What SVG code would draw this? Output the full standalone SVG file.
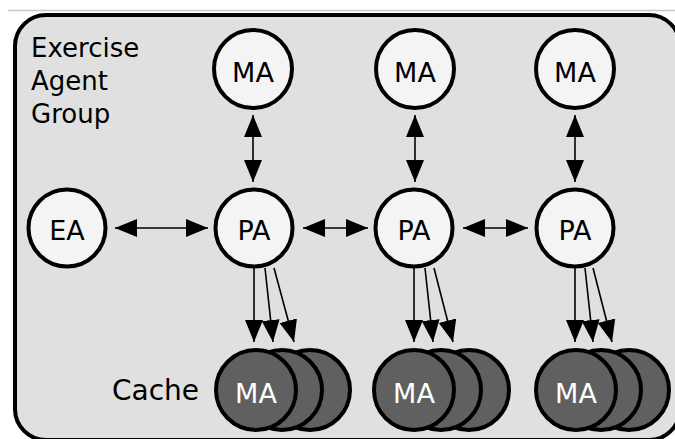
<svg xmlns="http://www.w3.org/2000/svg" width="675" height="439" viewBox="0 0 675 439">
  <style>
    .frame { fill: #e0e0e0; stroke: #000; stroke-width: 4; }
    .agent { fill: #f4f4f4; stroke: #000; stroke-width: 4; }
    .cached { fill: #606060; stroke: #000; stroke-width: 4; }
    .label { font-family: "DejaVu Sans", "Liberation Sans", sans-serif; font-size: 27px; fill: #000; text-anchor: middle; }
    .label.inv { fill: #fff; }
    .title { font-family: "DejaVu Sans", "Liberation Sans", sans-serif; font-size: 26px; fill: #000; }
    .link { stroke: #000; stroke-width: 1.6; fill: none; }
    .both { marker-start: url(#head); marker-end: url(#head); }
    .one { marker-end: url(#head); }
  </style>
  <defs>
    <marker id="head" markerUnits="userSpaceOnUse" markerWidth="23" markerHeight="19" refX="22" refY="9" orient="auto-start-reverse" viewBox="0 0 23 19">
      <path d="M0,0 L22,9 L0,18 z" fill="#000"/>
    </marker>
  </defs>

  <rect width="675" height="439" fill="#fff"/>
  <line x1="8" y1="10.5" x2="675" y2="10.5" stroke="#c8c8c8" stroke-width="1.5"/>

  <!-- enclosing group boundary -->
  <g id="exercise-agent-group">
    <rect class="frame" x="15" y="15" width="665" height="425" rx="31" ry="31"/>
    <text class="title" x="31" y="57">Exercise</text>
    <text class="title" x="31" y="90">Agent</text>
    <text class="title" x="31" y="123">Group</text>
  </g>

  <!-- connectors -->
  <g id="connectors">
    <line class="link both" x1="253" y1="115" x2="253" y2="182"/>
    <line class="link both" x1="415" y1="115" x2="415" y2="182"/>
    <line class="link both" x1="575" y1="115" x2="575" y2="182"/>

    <line class="link both" x1="115" y1="228" x2="208" y2="228"/>
    <line class="link both" x1="303" y1="228" x2="368" y2="228"/>
    <line class="link both" x1="463" y1="228" x2="528" y2="228"/>

    <line class="link one" x1="254" y1="268" x2="254" y2="342"/>
    <line class="link one" x1="265" y1="268" x2="273" y2="342"/>
    <line class="link one" x1="274" y1="268" x2="294" y2="342"/>

    <line class="link one" x1="414" y1="268" x2="414" y2="342"/>
    <line class="link one" x1="425" y1="268" x2="433" y2="342"/>
    <line class="link one" x1="434" y1="268" x2="453" y2="342"/>

    <line class="link one" x1="575" y1="268" x2="575" y2="342"/>
    <line class="link one" x1="585" y1="268" x2="593" y2="342"/>
    <line class="link one" x1="593" y1="268" x2="612" y2="342"/>
  </g>

  <!-- mobile agents (top row) -->
  <g id="ma-1">
    <circle class="agent" cx="253" cy="69" r="39"/>
    <text class="label" x="253" y="82">MA</text>
  </g>
  <g id="ma-2">
    <circle class="agent" cx="415" cy="69" r="39"/>
    <text class="label" x="415" y="82">MA</text>
  </g>
  <g id="ma-3">
    <circle class="agent" cx="575" cy="69" r="39"/>
    <text class="label" x="575" y="82">MA</text>
  </g>

  <!-- exercise agent and proxy agents -->
  <g id="ea">
    <circle class="agent" cx="67" cy="228" r="38.5"/>
    <text class="label" x="67" y="240">EA</text>
  </g>
  <g id="pa-1">
    <circle class="agent" cx="254" cy="228" r="38.5"/>
    <text class="label" x="254" y="240">PA</text>
  </g>
  <g id="pa-2">
    <circle class="agent" cx="414" cy="228" r="38.5"/>
    <text class="label" x="414" y="240">PA</text>
  </g>
  <g id="pa-3">
    <circle class="agent" cx="575" cy="228" r="38.5"/>
    <text class="label" x="575" y="240">PA</text>
  </g>

  <!-- cached mobile agents -->
  <g id="cache-label">
    <text class="title" x="112" y="400" style="font-size:28px">Cache</text>
  </g>
  <g id="cache-1">
    <circle class="cached" cx="310" cy="390" r="40"/>
    <circle class="cached" cx="282" cy="390" r="40"/>
    <circle class="cached" cx="256" cy="390" r="40"/>
    <text class="label inv" x="256" y="403">MA</text>
  </g>
  <g id="cache-2">
    <circle class="cached" cx="469" cy="390" r="40"/>
    <circle class="cached" cx="441" cy="390" r="40"/>
    <circle class="cached" cx="414" cy="390" r="40"/>
    <text class="label inv" x="414" y="403">MA</text>
  </g>
  <g id="cache-3">
    <circle class="cached" cx="629" cy="390" r="40"/>
    <circle class="cached" cx="601" cy="390" r="40"/>
    <circle class="cached" cx="576" cy="390" r="40"/>
    <text class="label inv" x="576" y="403">MA</text>
  </g>
</svg>
